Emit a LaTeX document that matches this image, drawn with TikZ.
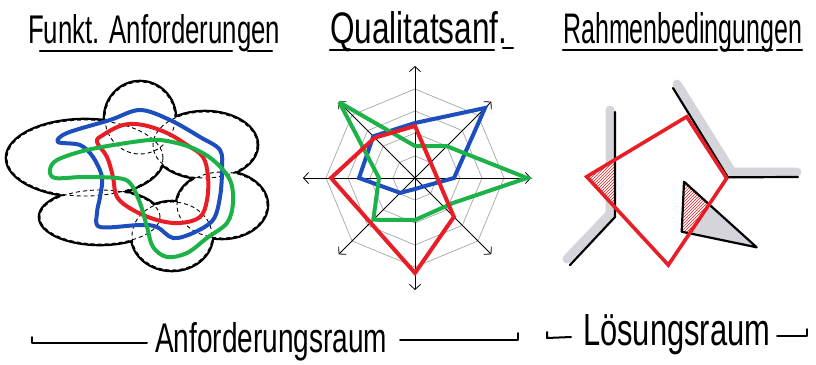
\documentclass[tikz,border=0pt]{standalone}
\usepackage{fontspec}
\setmainfont{Liberation Sans}
\usepackage{graphicx}
\usetikzlibrary{arrows.meta,patterns}
\definecolor{myred}{RGB}{232,30,38}
\definecolor{myblue}{RGB}{28,78,190}
\definecolor{mygreen}{RGB}{28,178,72}
\definecolor{bandgray}{RGB}{212,212,218}
\newcommand\hwtxt[3]{\resizebox{#1}{#2}{#3}}
\begin{document}
\begin{tikzpicture}[x=1pt,y=-1pt,
  lbl/.style={inner sep=0pt, anchor=base west},
  uline/.style={line width=2.4pt, line cap=round},
  blob/.style={line width=4pt, line join=round},
  spoke/.style={line width=0.8pt, {Straight Barb[length=5pt,width=11pt]}-{Straight Barb[length=5pt,width=11pt]}},
  webline/.style={gray!70, line width=0.7pt},
  poly/.style={line width=4pt, miter limit=3},
  constraint/.style={line width=2.2pt, line cap=round, line join=miter},
  graybandline/.style={bandgray, line width=9pt, line cap=round, line join=round},
  hatch/.style={pattern=north east lines, pattern color=myred}]
\useasboundingbox (0,0) rectangle (816,364);

% ---------- headings ----------
\node[lbl] (h1) at (28,43) {\hwtxt{252pt}{29pt}{Funkt. Anforderungen}};
\node[lbl] (h2) at (330,43) {\hwtxt{177pt}{32pt}{Qualitatsanf.}};
\node[lbl] (h3) at (563,43) {\hwtxt{239pt}{31pt}{Rahmenbedingungen}};
\draw[uline] (40,51) -- (232,51);
\draw[uline] (248,51) -- (272,51);
\draw[uline] (330,50) -- (494,50);
\draw[uline] (503,48) -- (513,48);
\draw[uline] (563,50) -- (717,50);
\draw[uline] (722,50) -- (743,50);
\draw[uline] (748,50) -- (772,50);
\draw[uline] (777,50) -- (802,50);

% ---------- flower (functional requirements) ----------
\def\lobes{(140,118) ellipse [x radius=35pt, y radius=36pt]
  (205,145) ellipse [x radius=52pt, y radius=33pt]
  (222,205) ellipse [x radius=45pt, y radius=33pt]
  (172,236) ellipse [x radius=40pt, y radius=34pt]
  (100,217) ellipse [x radius=60pt, y radius=27pt]
  (85,158) ellipse [x radius=78pt, y radius=38pt]}
\draw[line width=4.6pt] \lobes;
\fill[white] \lobes;
\draw[line width=0.9pt, dash pattern=on 4pt off 3pt] \lobes;

\draw[blob, myred] plot[smooth cycle, tension=0.6] coordinates {(97,142) (103,135) (123,125) (143,125) (167,133) (187,145) (203,157) (208,177) (207,200) (200,217) (180,223) (157,220) (133,210) (117,197) (113,177) (107,157)};
\draw[blob, myblue] plot[smooth cycle, tension=0.55] coordinates {(58,142) (67,133) (110,120) (140,110) (170,120) (200,137) (220,150) (222,170) (220,197) (213,220) (193,233) (173,238) (157,227) (140,225) (100,227) (97,213) (100,197) (102,177) (93,157) (80,145)};
\draw[blob, mygreen] plot[smooth cycle, tension=0.55] coordinates {(50,170) (57,160) (87,150) (133,142) (160,140) (190,147) (213,160) (230,180) (233,203) (227,223) (207,238) (187,253) (167,257) (153,247) (147,227) (140,203) (130,183) (117,178) (83,177) (55,178)};

% ---------- radar chart (quality requirements) ----------
\begin{scope}[shift={(415,178)}, yscale=-1]
  \foreach \r in {22,45,67,89}
    \draw[webline] (0:\r) -- (45:\r) -- (90:\r) -- (135:\r) -- (180:\r) -- (225:\r) -- (270:\r) -- (315:\r) -- cycle;
  \draw[spoke] (180:112) -- (0:116);
  \draw[spoke] (270:112) -- (90:112);
  \draw[spoke] (225:108) -- (45:108);
  \draw[spoke] (315:108) -- (135:108);
  \draw[poly, myblue] (0:39) -- (45:99) -- (90:55) -- (135:59) -- (180:56) -- (225:21) -- (270:11) -- (315:12) -- cycle;
  \draw[poly, mygreen] (0:112) -- (45:45) -- (90:32) -- (135:107) -- (180:36) -- (225:59) -- (270:42) -- (38,-25) -- cycle;
  \draw[poly, myred] (90:52) -- (315:55) -- (270:95) -- (180:84) -- (135:57) -- cycle;
\end{scope}

% ---------- constraints (Rahmenbedingungen) ----------
\def\quad{(586.7,176.7) -- (686.7,116.7) -- (726.7,178.3) -- (668.3,265) -- cycle}
\draw[graybandline] (610,110) -- (610,214) -- (567,259);
\draw[graybandline] (677,84) -- (732,172) -- (797,172);
\fill[bandgray] (684,181.7) -- (756.7,247.3) -- (681.7,231.7) -- cycle;
\begin{scope}
  \clip \quad;
  \fill[white] (575,150) rectangle (615,215);
  \fill[hatch] (575,150) rectangle (615,215);
  \fill[white] (684,181.7) -- (756.7,247.3) -- (681.7,231.7) -- cycle;
  \fill[hatch] (684,181.7) -- (756.7,247.3) -- (681.7,231.7) -- cycle;
\end{scope}
\draw[constraint] (615,112) -- (615,217) -- (570,265);
\draw[constraint] (673,88) -- (728,177.3) -- (798,177);
\draw[constraint, line join=round] (684,181.7) -- (756.7,247.3) -- (681.7,231.7) -- cycle;
\draw[line width=3.6pt, myred, line join=miter] \quad;

% ---------- bottom labels ----------
\node[lbl] (b1) at (155,352) {\hwtxt{232pt}{30pt}{Anforderungsraum}};
\node[lbl] (b2) at (583,345) {\hwtxt{187pt}{31pt}{Lösungsraum}};
\draw[line width=2pt, line cap=round, line join=round] (32,337) -- (32,343) -- (147,343);
\draw[line width=2pt, line cap=round, line join=round] (400,340) -- (518,340) -- (518,333);
\draw[line width=2pt, line cap=round, line join=round] (547,332) -- (547,338) -- (571,337);
\draw[line width=2pt, line cap=round, line join=round] (777,336) -- (807,336) -- (807,329);
\end{tikzpicture}
\end{document}
